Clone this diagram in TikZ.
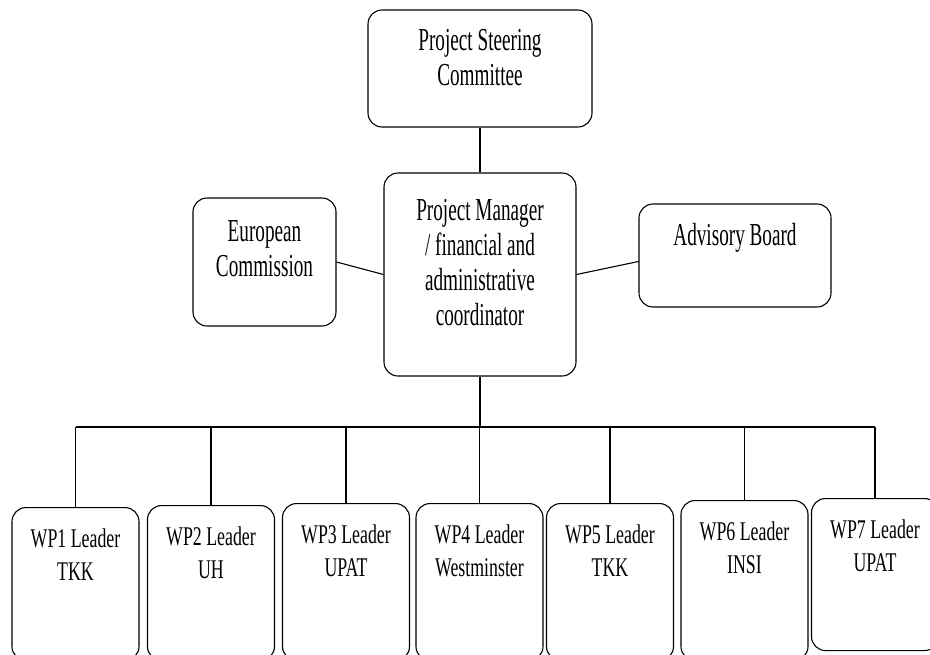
\documentclass[tikz,border=0pt]{standalone}
\usepackage{fontspec}
\setmainfont{Liberation Serif}
\newfontfamily\boxfont{Liberation Serif}[FakeStretch=0.6]
\newfontfamily\wpfont{Liberation Serif}[FakeStretch=0.66]
\usetikzlibrary{positioning}

\tikzset{
  orgbox/.style={draw,line width=1.1pt,rounded corners=14pt,inner sep=0pt},
  orglbl/.style={inner sep=0pt,align=center,font=\boxfont\fontsize{32}{35}\selectfont},
  wplbl/.style={inner sep=0pt,align=center,font=\wpfont\fontsize{27}{33}\selectfont},
  link/.style={line width=1.1pt}
}

\begin{document}
\begin{tikzpicture}[x=1pt,y=-1pt]
\clip (0,0) rectangle (930,654);
% upper boxes
\node[orgbox,minimum width=224pt,minimum height=117pt] (psc) at (480,68.5) {};
\node[orglbl,below=20pt of psc.north] (psctxt) {Project Steering\\Committee};
\node[orgbox,minimum width=192pt,minimum height=203pt] (pm) at (480,274.5) {};
\node[orglbl,below=27pt of pm.north] (pmtxt) {Project Manager\\/ financial and\\administrative\\coordinator};
\node[orgbox,minimum width=143pt,minimum height=128pt] (ec) at (264.5,262) {};
\node[orglbl,below=23pt of ec.north] (ectxt) {European\\Commission};
\node[orgbox,minimum width=192pt,minimum height=103pt] (ab) at (735,255.5) {};
\node[orglbl,below=20pt of ab.north] (abtxt) {Advisory Board};
\draw[link] (psc.south) -- (pm.north);
\draw[link] (ec.east) -- (pm.west);
\draw[link] (pm.east) -- ([yshift=-6pt]ab.west);
% work package leaders
\coordinate (bus) at (480,427);
\foreach \n/\x/\y/\h/\org in {1/75.5/507/153/TKK,2/211/505/155/UH,3/346/503/157/UPAT,
    4/479.5/503/157/Westminster,5/610/503/157/TKK,6/744.5/500/160/INSI,7/875/498/152/UPAT}{
  \node[orgbox,minimum width=127pt,minimum height=\h pt,anchor=north] (wp\n) at (\x,\y) {};
  \node[wplbl,below=22pt of wp\n.north] (wp\n txt) {WP\n{} Leader\\\org};
  \draw[link] (wp\n.north |- bus) -- (wp\n.north);
}
\draw[link] (pm.south) -- (bus);
\draw[link] (wp1.north |- bus) -- (wp7.north |- bus);
\end{tikzpicture}
\end{document}
